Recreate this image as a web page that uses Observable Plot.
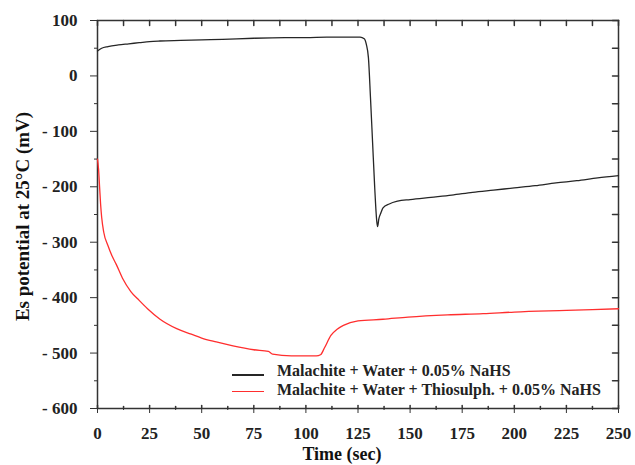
<!DOCTYPE html>
<html>
<head>
<meta charset="utf-8">
<script src="https://cdn.jsdelivr.net/npm/d3@7"></script>
<script src="https://cdn.jsdelivr.net/npm/@observablehq/plot@0.6"></script>
<style>
  body { margin: 0; background: #fff; }
  #wrap { position: relative; width: 635px; height: 465px; overflow: hidden; }
  .legend { position: absolute; left: 232px; top: 361px; font: bold 16px "Liberation Serif", serif; color: #222; }
  .legend .row { display: flex; align-items: center; height: 19px; }
  .legend .swatch { width: 32px; height: 0; margin-right: 13px; }
</style>
</head>
<body>
<div id="wrap"></div>
<script>
// Es potential of malachite pulp versus time after NaHS addition
const timeWater = [0, 2, 5, 10, 15, 20, 25, 30, 40, 50, 60, 75, 90, 100, 110, 120, 126, 128, 129, 130, 131, 132, 133, 134, 134.4, 135, 136, 137, 140, 144, 150, 160, 170, 180, 190, 200, 210, 220, 230, 240, 250];
const esWater   = [45, 50, 53, 56, 58, 60, 62, 63, 64, 65, 66, 68, 69, 69, 70, 70, 70, 67, 57, 33, -40, -120, -200, -262, -272, -258, -247, -238, -231, -226, -223, -219, -215, -210, -206, -202, -198, -193, -189, -184, -180];

const timeThio = [0, 0.5, 1, 1.5, 2, 3, 5, 7, 9, 12, 16, 20, 24, 30, 38, 45, 50, 57, 65, 75, 82, 84, 93, 105, 107, 109, 112, 115, 118, 125, 137, 149, 168, 185, 200, 225, 250];
const esThio   = [-150, -168, -200, -232, -255, -282, -306, -325, -340, -365, -389, -405, -420, -439, -456, -466, -473, -480, -487, -494, -497, -502, -505, -505, -503, -490, -468, -457, -450, -442, -439, -435, -431, -429, -426, -423, -420];

const seriesNames = ["Malachite + Water + 0.05% NaHS", "Malachite + Water + Thiosulph. + 0.05% NaHS"];
const xTitle = "Time (sec)";
const yTitle = "Es potential at 25°C (mV)";

const xTicks = [0, 25, 50, 75, 100, 125, 150, 175, 200, 225, 250];
const xMinorTicks = [12.5, 37.5, 62.5, 87.5, 112.5, 137.5, 162.5, 187.5, 212.5, 237.5];
const yTicks = [-600, -500, -400, -300, -200, -100, 0, 100];
const yMinorTicks = [-550, -450, -350, -250, -150, -50, 50];

const colors = ["#262626", "#ff2e2e"];
const axisColor = "#333";

const rows = [
  ...timeWater.map((t, i) => ({series: seriesNames[0], time: t, es: esWater[i]})),
  ...timeThio.map((t, i) => ({series: seriesNames[1], time: t, es: esThio[i]}))
];

// a plain straight stroke used for the inward-pointing tick marks
const stroke = {draw(ctx, l) { ctx.moveTo(0, 0); ctx.lineTo(0, -l); }};
const fmtY = d => d < 0 ? "- " + Math.abs(d) : String(d);
const noText = () => "";

const chart = Plot.plot({
  width: 635,
  height: 465,
  marginLeft: 97,
  marginRight: 17,
  marginTop: 20,
  marginBottom: 57,
  style: {fontFamily: '"Liberation Serif", serif', fontSize: "17px", fontWeight: "bold", color: "#222", background: "#fff"},
  x: {domain: [0, 250]},
  y: {domain: [-600, 100]},
  color: {domain: seriesNames, range: colors},
  marks: [
    Plot.frame({stroke: axisColor, strokeWidth: 1.5}),
    Plot.axisX({ticks: xTicks, tickSize: 5, tickPadding: 13, tickFormat: d => String(d), label: null, stroke: axisColor}),
    Plot.axisX({ticks: xMinorTicks, tickSize: 2, tickFormat: noText, label: null, stroke: axisColor}),
    Plot.vector(xTicks, {x: d => d, y: -600, length: 3, anchor: "start", shape: stroke, stroke: axisColor}),
    Plot.vector(xMinorTicks, {x: d => d, y: -600, length: 2, anchor: "start", shape: stroke, stroke: axisColor}),
    Plot.vector([...xTicks, ...xMinorTicks], {x: d => d, y: 100, length: 5, rotate: 180, anchor: "start", shape: stroke, stroke: axisColor}),
    Plot.axisY({ticks: yTicks, tickSize: 7, tickPadding: 13, tickFormat: fmtY, label: null, stroke: axisColor}),
    Plot.axisY({ticks: yMinorTicks, tickSize: 3, tickFormat: noText, label: null, stroke: axisColor}),
    Plot.vector([...yTicks, ...yMinorTicks], {x: 250, y: d => d, length: 6, rotate: -90, anchor: "start", shape: stroke, stroke: axisColor}),
    Plot.text([xTitle], {frameAnchor: "bottom", textAnchor: "middle", lineAnchor: "middle", dx: -16, dy: 46, fontSize: 18, fontWeight: "bold", fill: "#111"}),
    Plot.text([yTitle], {frameAnchor: "left", textAnchor: "middle", lineAnchor: "middle", rotate: -90, dx: -75, dy: 2, fontSize: 19, fontWeight: "bold", fill: "#111"}),
    Plot.line(rows, {x: "time", y: "es", z: "series", stroke: "series", strokeWidth: 1.3, curve: "monotone-x"})
  ]
});

const wrap = document.getElementById("wrap");
wrap.appendChild(chart);

// legend drawn inside the lower part of the plot area
const legend = document.createElement("div");
legend.className = "legend";
seriesNames.forEach((name, i) => {
  const row = document.createElement("div");
  row.className = "row";
  const sw = document.createElement("span");
  sw.className = "swatch";
  sw.style.borderTop = `${i === 0 ? 2 : 1.3}px solid ${colors[i]}`;
  sw.style.marginTop = i === 0 ? "8px" : "4px";
  const label = document.createElement("span");
  label.textContent = name;
  row.appendChild(sw);
  row.appendChild(label);
  legend.appendChild(row);
});
wrap.appendChild(legend);
</script>
</body>
</html>
